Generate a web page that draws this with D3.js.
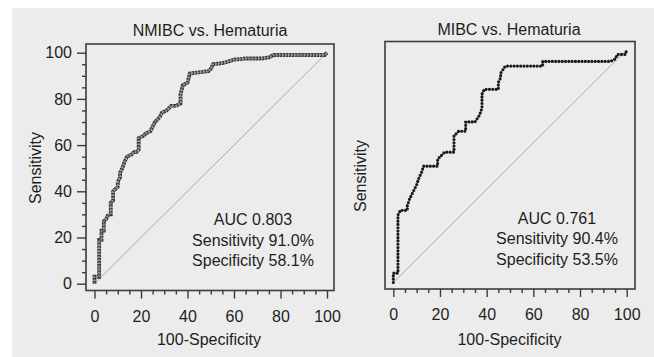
<!DOCTYPE html>
<html><head><meta charset="utf-8">
<script src="https://cdn.jsdelivr.net/npm/d3@7/dist/d3.min.js"></script>
<style>
html,body{margin:0;padding:0;background:#fff;}
svg{display:block;font-family:"Liberation Sans",Arial,sans-serif;}
</style></head>
<body>
<svg id="c" width="654" height="357"></svg>
<script>
// ---- data ----
const xTicks = [0, 20, 40, 60, 80, 100];
const yTicks = [0, 20, 40, 60, 80, 100];
const titles = ["NMIBC vs. Hematuria", "MIBC vs. Hematuria"];
const xLabel = "100-Specificity";
const yLabel = "Sensitivity";
// ROC vertices: [100-Specificity, Sensitivity]
const nmibcFpr = [0,0,2,2,3,3,4,4,5,6,7,7,8,8,10,10,11,11,12,13,14,16,17,18,19,19,21,22,24,25,26,28,29,31,33,35,37,37,38,40,41,45,49,50,51,55,57,60,65,72,75,77,85,95,99,100];
const nmibcTpr = [0,3,3,19,19,23,23,27,28,30,30,35,36,40,42,44,46,48,50,53,55,56,57,57,58,63,64,65,66,68,70,72,74,75,77,77,78,82,86,87,91,91.5,92,93,95,95.5,96,97,97.5,97.5,98,99,99,99,99,100];
const mibcFpr = [0,0,2,2,3,6,6,7,8,9,10,11,12,13,19,19,20,22,26,26,28,31,31,35,37,38,38,39,45,45,46,46,48,64,64,93,95,96,99.5,100];
const mibcTpr = [0,4,4,29,31,31,33,36,38,40,42,45,47,50,50,53,54,56,56,63,65,65,69,69,72,75,81,83,83,86,88,90,93,93,95,95,96,98,98,100];
const annotations = [
  ["AUC 0.803", "Sensitivity 91.0%", "Specificity 58.1%"],
  ["AUC 0.761", "Sensitivity 90.4%", "Specificity 53.5%"]
];

const svg = d3.select("#c");
svg.append("rect").attr("x",12).attr("y",8).attr("width",642).attr("height",349).attr("fill","#ececec");

const panels = [
  {frame:[86,44,334,290.5], xr:[94.5,327], yr:[283.7,52.7], fpr:nmibcFpr, tpr:nmibcTpr, yAxis:true,
   title:[210,36], ylab:[41,168], xlab:[209,345], ann:[253,225], style:"grey"},
  {frame:[385,41.5,635,289], xr:[393.3,626.7], yr:[282.5,49.8], fpr:mibcFpr, tpr:mibcTpr, yAxis:false,
   title:[509,35], ylab:[366,176], xlab:[509.5,345], ann:[557,223.5], style:"black"}
];
const txt = "#1e1e1e";

panels.forEach((p,i)=>{
  const x = d3.scaleLinear().domain([0,100]).range(p.xr);
  const y = d3.scaleLinear().domain([0,100]).range(p.yr);
  const [fx0,fy0,fx1,fy1] = p.frame;
  const g = svg.append("g");

  // diagonal
  g.append("line").attr("x1",x(0)).attr("y1",y(0)).attr("x2",x(100)).attr("y2",y(100))
    .attr("stroke","#a8a8a8").attr("stroke-width",1);

  // curve
  const pts = p.fpr.map((v,k)=>[v,p.tpr[k]]);
  const line = d3.line().x(d=>x(d[0])).y(d=>y(d[1]));
  if(p.style==="grey"){
    g.append("path").attr("d",line(pts)).attr("fill","none").attr("stroke","#3a3a3a")
      .attr("stroke-width",3.8).attr("stroke-dasharray","2.6,0.5");
    g.append("path").attr("d",line(pts)).attr("fill","none").attr("stroke","#a0a0a0")
      .attr("stroke-width",1.4).attr("stroke-dasharray","1.4,1.7");
  } else {
    g.append("path").attr("d",line(pts)).attr("fill","none").attr("stroke","#1a1a1a")
      .attr("stroke-width",3.2).attr("stroke-linecap","round").attr("stroke-dasharray","0,3.3");
  }

  // frame
  g.append("rect").attr("x",fx0).attr("y",fy0).attr("width",fx1-fx0).attr("height",fy1-fy0)
    .attr("fill","none").attr("stroke","#3c3c3c").attr("stroke-width",1.6);

  // x axis
  const xa = d3.axisBottom(x).tickValues(xTicks).tickSize(8).tickPadding(12);
  const xg = g.append("g").attr("transform",`translate(0,${fy1})`).call(xa);
  const xm = d3.axisBottom(x).tickValues(d3.range(0,101,5).filter(v=>v%20)).tickSize(4).tickFormat("");
  const xmg = g.append("g").attr("transform",`translate(0,${fy1})`).call(xm);
  [xg,xmg].forEach(a=>{a.select(".domain").remove(); a.selectAll("line").attr("stroke","#3c3c3c").attr("stroke-width",1.4);});
  xg.selectAll("text").attr("font-size",16).attr("fill",txt).attr("font-family","Liberation Sans, Arial, sans-serif");

  if(p.yAxis){
    const ya = d3.axisLeft(y).tickValues(yTicks).tickSize(9).tickPadding(5);
    const yg = g.append("g").attr("transform",`translate(${fx0},0)`).call(ya);
    const ym = d3.axisLeft(y).tickValues(d3.range(0,101,5).filter(v=>v%20)).tickSize(4).tickFormat("");
    const ymg = g.append("g").attr("transform",`translate(${fx0},0)`).call(ym);
    [yg,ymg].forEach(a=>{a.select(".domain").remove(); a.selectAll("line").attr("stroke","#3c3c3c").attr("stroke-width",1.4);});
    yg.selectAll("text").attr("font-size",16).attr("fill",txt).attr("font-family","Liberation Sans, Arial, sans-serif");
  }

  // title
  g.append("text").attr("x",p.title[0]).attr("y",p.title[1]).attr("text-anchor","middle")
    .attr("font-size",16).attr("fill",txt).text(titles[i]);
  // axis labels
  g.append("text").attr("x",p.xlab[0]).attr("y",p.xlab[1]).attr("text-anchor","middle")
    .attr("font-size",16).attr("fill",txt).text(xLabel);
  g.append("text").attr("transform",`translate(${p.ylab[0]},${p.ylab[1]}) rotate(-90)`).attr("text-anchor","middle")
    .attr("font-size",16).attr("fill",txt).text(yLabel);
  // annotation
  annotations[i].forEach((s,k)=>{
    g.append("text").attr("x",p.ann[0]).attr("y",p.ann[1]+k*20.5).attr("text-anchor","middle")
      .attr("font-size",16).attr("fill",txt).text(s);
  });
});
</script>
</body></html>
